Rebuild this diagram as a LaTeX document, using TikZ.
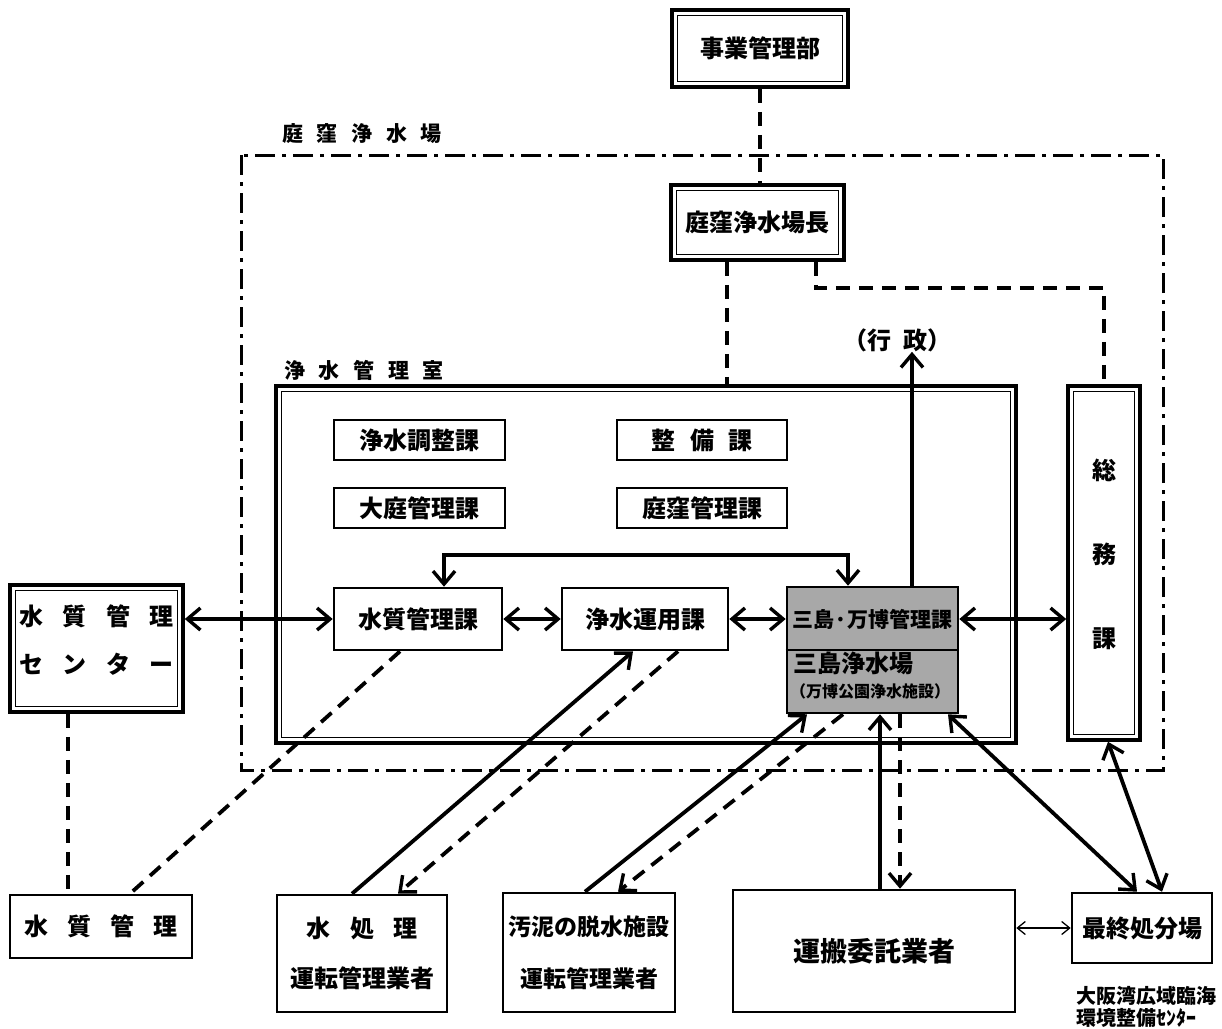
\documentclass[tikz,border=0pt]{standalone}
\usepackage{fontspec}
\setmainfont{Noto Sans CJK JP}
\usetikzlibrary{arrows.meta,calc}
\newcommand\myg[1][0.8em]{\hspace{#1}}
\newcommand\fs[2][]{\fontsize{#2}{#2}\selectfont\bfseries}
\tikzset{
  tip/.tip={Straight Barb[length=13pt,width=22pt,line width=3.4pt]},
  smalltip/.tip={Straight Barb[length=8pt,width=13pt,line width=1.3pt]},
  box/.style={draw, line width=2.6pt, inner sep=0pt, align=center, font=\fs{24}},
  dbox/.style={box, line width=3.6pt,
    path picture={\draw[line width=1.7pt]
      ([shift={(5.5pt,-5.5pt)}]path picture bounding box.north west) rectangle
      ([shift={(-5.5pt,5.5pt)}]path picture bounding box.south east);}},
  lbl/.style={inner sep=0pt, font=\fs{21}},
  arr/.style={line width=3.8pt, -tip},
  darr/.style={line width=3.8pt, tip-tip},
  dsh/.style={line width=3.8pt, dash pattern=on 14pt off 9pt},
  dd/.style={line width=3pt, dash pattern=on 20pt off 7pt on 4pt off 7pt},
}
\begin{document}
\begin{tikzpicture}[x=1pt,y=-1pt]
\useasboundingbox (0,0) rectangle (1222,1028);
\fill[white] (0,0) rectangle (1222,1028);

% outer dash-dot frame
\draw[dd] (241,155) rectangle (1163,770);
\node[lbl, anchor=west] (labA) at (282,134) {庭\myg[0.65em]窪\myg[0.65em]浄\myg[0.65em]水\myg[0.65em]場};
\node[lbl, anchor=west] (labB) at (284,370) {浄\myg[0.65em]水\myg[0.65em]管\myg[0.65em]理\myg[0.65em]室};

% top
\node[dbox, minimum width=176, minimum height=77] (jig) at (760,48.5) {事業管理部};
\node[dbox, minimum width=173, minimum height=75] (cho) at (757.5,222.5) {庭窪浄水場長};
\node[font=\fs{24}, inner sep=0pt] (gyosei) at (897,340) {（行\myg[0.5em]政）};

% 浄水管理室
\node[dbox, minimum width=740, minimum height=357] (shitsu) at (646,564.5) {};
\node[dbox, minimum width=72, minimum height=354, font=\fontsize{24}{28}\selectfont\bfseries] (somu) at (1104,563)
  {総\\[56pt]務\\[56pt]課\\[-8pt]\mbox{}};

\node[box, minimum width=171, minimum height=40] (chosei) at (419.5,440) {浄水調整課};
\node[box, minimum width=170, minimum height=40] (seibi) at (702,440) {整\myg[0.6em]備\myg[0.6em]課};
\node[box, minimum width=171, minimum height=40] (oniwa) at (419.5,508) {大庭管理課};
\node[box, minimum width=170, minimum height=40] (niwakubo) at (702,508) {庭窪管理課};

\node[box, minimum width=168, minimum height=62] (suishitsuka) at (418,619) {水質管理課};
\node[box, minimum width=166, minimum height=62] (unyo) at (645,619) {浄水運用課};

\node[box, fill=gray!68, minimum width=171, minimum height=126] (mishima) at (872.5,650) {};
\draw[line width=2.4pt] (mishima.west |- 0,650) -- (mishima.east |- 0,650);
\node[inner sep=0pt, font=\fs{21}] (m1) at (872.5,619) {三島·万博管理課};
\node[inner sep=0pt, font=\fs{24}, anchor=west] (m2) at (793,663) {三島浄水場};
\node[inner sep=0pt, font=\fs{16}, anchor=west] (m3) at (790,691) {（万博公園浄水施設）};

% left
\node[dbox, minimum width=173, minimum height=127, font=\fontsize{24}{28}\selectfont\bfseries] (qcenter) at (96.5,648.5)
  {水\myg{}質\myg{}管\myg{}理\\[20pt]セ\myg{}ン\myg{}タ\myg{}ー\\[-10pt]\mbox{}};
\node[box, minimum width=182, minimum height=63] (sq) at (101,926.5) {水\myg{}質\myg{}管\myg{}理};

% bottom
\node[box, minimum width=170, minimum height=117, font=\fontsize{24}{28}\selectfont\bfseries] (mizu) at (362,953.5)
  {水\myg{}処\myg{}理\\[22pt]運転管理業者};
\node[box, minimum width=172, minimum height=119, font=\fontsize{23}{28}\selectfont\bfseries] (odei) at (589,952.5)
  {汚泥の脱水施設\\[24pt]運転管理業者};
\node[box, minimum width=282, minimum height=122, font=\fs{27}] (unpan) at (874,951) {運搬委託業者};
\node[box, minimum width=140, minimum height=70] (saishu) at (1142,928) {最終処分場};
\node[inner sep=0pt, anchor=north west, align=left, font=\fontsize{20}{22}\selectfont\bfseries] (osaka) at (1076,986)
  {大阪湾広域臨海\\環境整備ｾﾝﾀｰ};

% connectors
\draw[dsh] (jig.south) -- (jig.south |- cho.north);
\draw[dsh] (727,0 |- cho.south) -- (727,0 |- shitsu.north);
\coordinate (bend) at (1104,288);
\draw[dsh] (816,0 |- cho.south) |- (bend) -- (somu.north);
\draw[arr] (912,0 |- mishima.north) -- (912,0 |- gyosei.south);

\coordinate (l1) at (444,555);
\coordinate (l2) at (848,555);
\draw[darr] (l1 |- suishitsuka.north) -- (l1) -- (l2) -- (l2 |- mishima.north);

\draw[darr] (qcenter.east |- suishitsuka.west) -- (suishitsuka.west);
\draw[darr] (suishitsuka.east) -- (unyo.west);
\draw[darr] (unyo.east) -- (mishima.west |- unyo.east);
\draw[darr] (mishima.east |- unyo.east) -- (somu.west |- unyo.east);

\draw[dsh] (68,0 |- qcenter.south) -- (68,0 |- sq.north);
\draw[dsh] (400,0 |- suishitsuka.south) -- (130,0 |- sq.north);

\draw[arr] (352,0 |- mizu.north) -- (633,0 |- unyo.south);
\draw[dsh, -tip] (678,0 |- unyo.south) -- (398,0 |- mizu.north);
\draw[arr] (585,0 |- odei.north) -- (807,0 |- mishima.south);
\draw[dsh, -tip] (843,0 |- mishima.south) -- (618,0 |- odei.north);
\draw[arr] (880,0 |- unpan.north) -- (880,0 |- mishima.south);
\draw[dsh, -tip] (900,0 |- mishima.south) -- (900,0 |- unpan.north);
\draw[darr] (948,0 |- mishima.south) -- (1137,0 |- saishu.north);
\draw[darr] (1108,0 |- somu.south) -- (1162,0 |- saishu.north);
\draw[line width=1.3pt, smalltip-smalltip] (unpan.east |- saishu.west) -- (saishu.west);
\end{tikzpicture}
\end{document}
